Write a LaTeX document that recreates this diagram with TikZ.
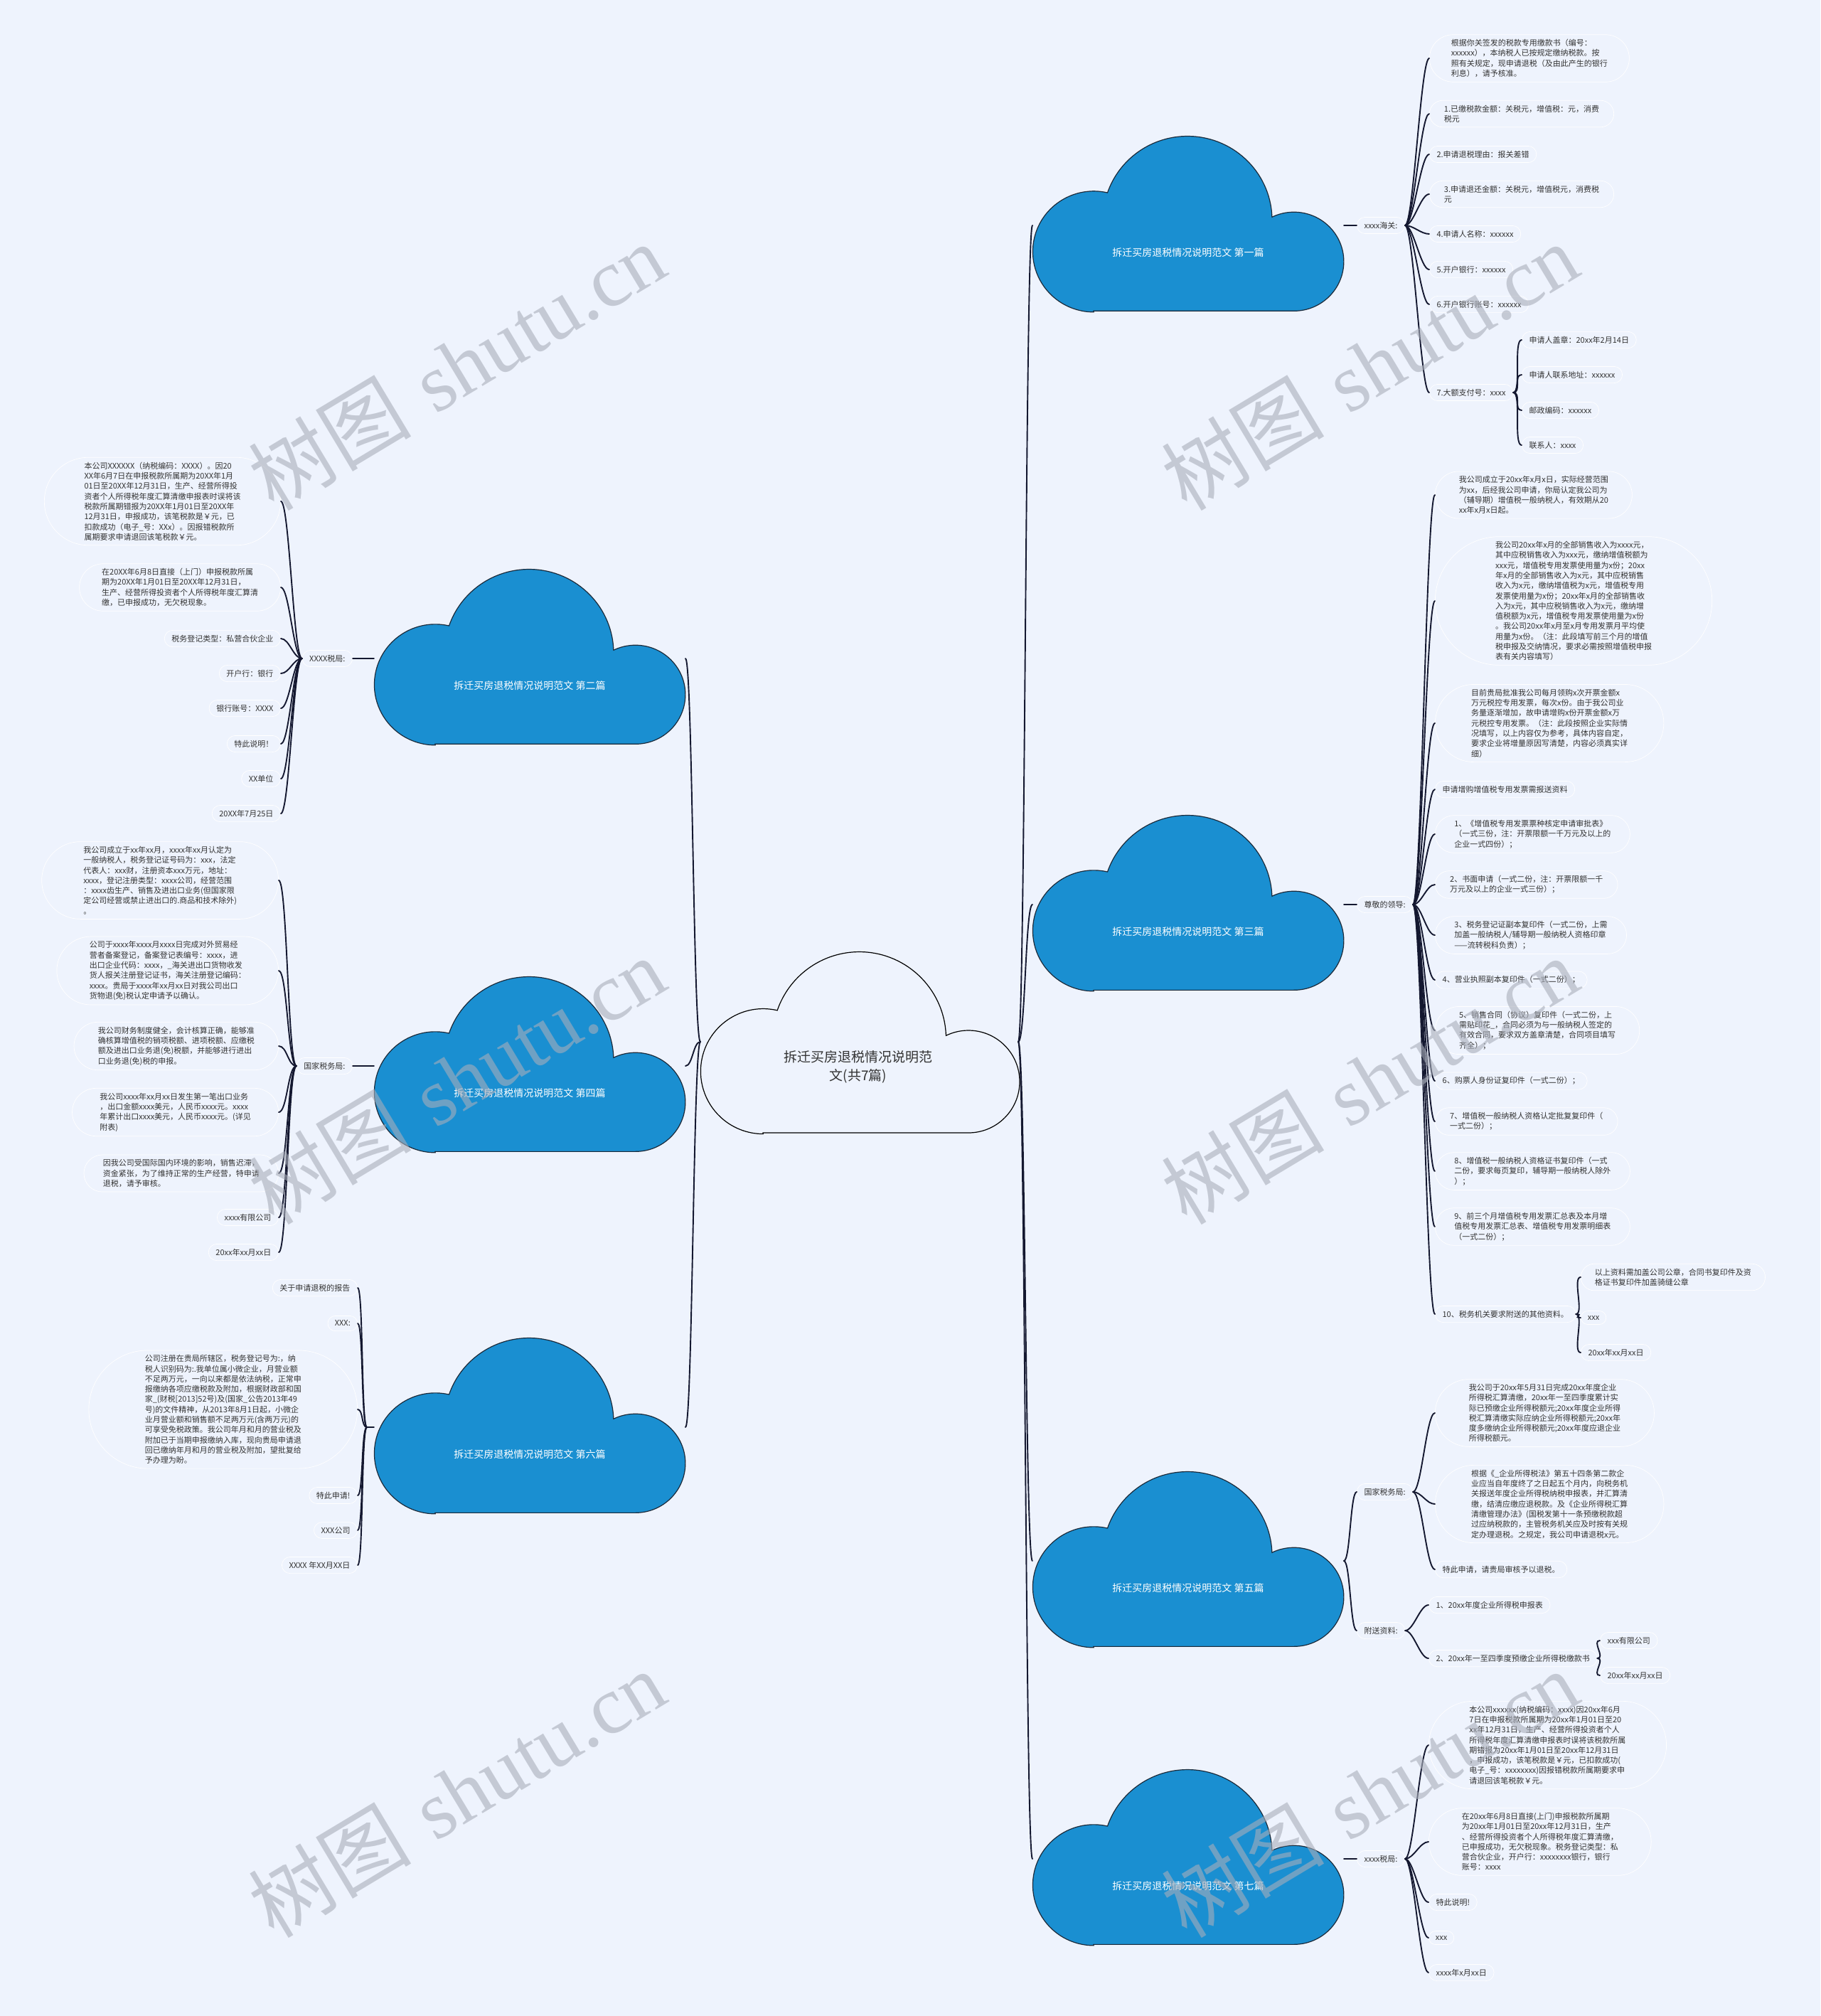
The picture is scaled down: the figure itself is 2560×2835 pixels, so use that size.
\documentclass[tikz,border=0pt]{standalone}
\usepackage{fontspec}
\usepackage{tikz}
\usetikzlibrary{calc, shapes.misc}
\newfontfamily\cjk{Noto Sans CJK SC}
\newfontfamily\wmserif{Liberation Serif}
\definecolor{bgc}{HTML}{EEF3FD}
\definecolor{cloudblue}{HTML}{1A8FD1}
\definecolor{cloudedge}{HTML}{1B2A3A}
\definecolor{linkc}{HTML}{141830}
\definecolor{txtc}{HTML}{333333}
\definecolor{wmc}{HTML}{A9AEBA}
\newcommand\leaffont{\cjk\fontsize{11}{14.3}\selectfont}
\newcommand\cloudfont{\cjk\fontsize{14}{17}\selectfont}
\newcommand\rootfont{\cjk\fontsize{19}{26}\selectfont}
\newcommand\wmfont{\fontsize{115}{115}\selectfont}
\pgfdeclarelayer{bg}
\pgfdeclarelayer{clouds}
\pgfdeclarelayer{top}
\pgfsetlayers{bg,clouds,main,top}
\tikzset{
  leaf/.style={rounded rectangle, draw=white, line width=0.7pt, fill=bgc, text=txtc,
    font=\leaffont, align=left, inner xsep=9pt, inner ysep=6.5pt},
  para/.style={leaf, inner xsep=#1},
  para/.default=20pt,
  link/.style={draw=linkc, line width=1.9pt, line cap=round},
  cloudtext/.style={text=white, font=\cloudfont},
  roottext/.style={text=txtc, font=\rootfont, align=center},
  branchcloud/.style={fill=cloudblue, draw=cloudedge, line width=1.2pt, xscale=0.975, yscale=0.966},
  rootcloud/.style={fill=bgc, draw=black, line width=1.2pt},
  wmark/.style={text=wmc, opacity=0.6, rotate=31, font=\wmfont},
  cloudform/.pic={
    \path[pic actions] (85,255) -- (374,255) arc[start angle=90, end angle=-116, radius=72]
      arc[start angle=-2, end angle=-161, radius=122]
      arc[start angle=-77, end angle=-270, radius=88] -- cycle;
  }
}

\begin{document}
\begin{tikzpicture}[x=1pt, y=-1pt]
    \useasboundingbox (0,0) rectangle (2560,2835);
    \begin{pgfonlayer}{bg}
    \fill[bgc] (0,0) rectangle (2560,2835);
    \end{pgfonlayer}
    % Root and chapters
    \node[roottext] (root) at (1207,1500) {拆迁买房退税情况说明范\\文(共7篇)};
    \node[cloudtext] (p1) at (1671,355) {拆迁买房退税情况说明范文 第一篇};
    \node[cloudtext] (p2) at (745,964) {拆迁买房退税情况说明范文 第二篇};
    \node[cloudtext] (p3) at (1671,1310) {拆迁买房退税情况说明范文 第三篇};
    \node[cloudtext] (p4) at (745,1537) {拆迁买房退税情况说明范文 第四篇};
    \node[cloudtext] (p5) at (1671,2233) {拆迁买房退税情况说明范文 第五篇};
    \node[cloudtext] (p6) at (745,2045) {拆迁买房退税情况说明范文 第六篇};
    \node[cloudtext] (p7) at (1671,2652) {拆迁买房退税情况说明范文 第七篇};
    \coordinate (rootL) at ($(root)+(-222,-35)$);
    \coordinate (rootR) at ($(root)+(225,-35)$);
    \foreach \p in {p1,p2,p3,p4,p5,p6,p7} {
        \coordinate (\p-in) at ($(\p)+(-219,-38)$);
        \coordinate (\p-out) at ($(\p)+(219,-38)$);
    }
    \coordinate (p6-hub) at ($(p6)+(-229,-38)$);
    % Clouds
    \begin{pgfonlayer}{clouds}
    \pic[rootcloud] at ($(root)+(-219,-162)$) {cloudform};
    \foreach \p in {p1,p2,p3,p4,p5,p6,p7}
        \pic[branchcloud] at ($(\p)+(-216,-164)$) {cloudform};
    \end{pgfonlayer}
    \foreach \p in {p1,p3,p5,p7}
        \draw[link] (rootR) .. controls +(10,0) and +(-10,0) .. (\p-in);
    \foreach \p in {p2,p4,p6}
        \draw[link] (rootL) .. controls +(-10,0) and +(10,0) .. (\p-out);

    % Chapter 1
    \node[leaf, anchor=west] (t1) at ($(p1-out)+(18,0)$) {xxxx海关:};
    \draw[link] (p1-out) -- (t1);
    \node[para=17pt, anchor=west] (c1) at (2010,82) {根据你关签发的税款专用缴款书（编号：\\xxxxxx），本纳税人已按规定缴纳税款。按\\照有关规定，现申请退税（及由此产生的银行\\利息），请予核准。};
    \node[para=16pt, anchor=west] (c2) at (2010,160) {1.已缴税款金额：关税元，增值税：元，消费\\税元};
    \node[leaf, anchor=west] (c3) at (2010,217) {2.申请退税理由：报关差错};
    \node[para=16pt, anchor=west] (c4) at (2010,273) {3.申请退还金额：关税元，增值税元，消费税\\元};
    \node[leaf, anchor=west] (c5) at (2010,329) {4.申请人名称：xxxxxx};
    \node[leaf, anchor=west] (c6) at (2010,379) {5.开户银行：xxxxxx};
    \node[leaf, anchor=west] (c7) at (2010,428) {6.开户银行账号：xxxxxx};
    \node[leaf, anchor=west] (c8) at (2010,552) {7.大额支付号：xxxx};
    \foreach \i in {1,...,8}
        \draw[link] (t1.east) .. controls +(12,0) and +(-12,0) .. (c\i.west);
    \foreach \j/\y/\t in {1/478/申请人盖章：20xx年2月14日, 2/527/申请人联系地址：xxxxxx,
                          3/577/邮政编码：xxxxxx, 4/626/联系人：xxxx} {
        \node[leaf, anchor=west] (c8-\j) at (2140,\y) {\t};
        \draw[link] (c8.east) .. controls +(12,0) and +(-12,0) .. (c8-\j.west);
    }

    % Chapter 3
    \node[leaf, anchor=west] (t3) at ($(p3-out)+(18,0)$) {尊敬的领导:};
    \draw[link] (p3-out) -- (t3);
    \node[para, anchor=west] (d1) at (2018,696) {我公司成立于20xx年x月x日，实际经营范围\\为xx，后经我公司申请，你局认定我公司为\\（辅导期）增值税一般纳税人，有效期从20\\xx年x月x日起。};
    \node[para=28pt, anchor=west] (d2) at (2018,845) {我公司20xx年x月的全部销售收入为xxxx元，\\其中应税销售收入为xxx元，缴纳增值税额为\\xxx元，增值税专用发票使用量为x份；20xx\\年x月的全部销售收入为x元，其中应税销售\\收入为x元，缴纳增值税为x元，增值税专用\\发票使用量为x份；20xx年x月的全部销售收\\入为x元，其中应税销售收入为x元，缴纳增\\值税额为x元，增值税专用发票使用量为x份\\。我公司20xx年x月至x月专用发票月平均使\\用量为x份。（注：此段填写前三个月的增值\\税申报及交纳情况，要求必需按照增值税申报\\表有关内容填写）};
    \node[para=22pt, anchor=west] (d3) at (2018,1017) {目前贵局批准我公司每月领购x次开票金额x\\万元税控专用发票，每次x份。由于我公司业\\务量逐渐增加，故申请增购x份开票金额x万\\元税控专用发票。（注：此段按照企业实际情\\况填写，以上内容仅为参考，具体内容自定，\\要求企业将增量原因写清楚，内容必须真实详\\细）};
    \node[leaf, anchor=west] (d4) at (2018,1110) {申请增购增值税专用发票需报送资料};
    \node[para=18pt, anchor=west] (d5) at (2018,1173) {1、《增值税专用发票票种核定申请审批表》\\（一式三份，注：开票限额一千万元及以上的\\企业一式四份）；};
    \node[para=16pt, anchor=west] (d6) at (2018,1244) {2、书面申请（一式二份，注：开票限额一千\\万元及以上的企业一式三份）；};
    \node[para=18pt, anchor=west] (d7) at (2018,1315) {3、税务登记证副本复印件（一式二份，上需\\加盖一般纳税人/辅导期一般纳税人资格印章\\——流转税科负责）；};
    \node[leaf, anchor=west] (d8) at (2018,1378) {4、营业执照副本复印件（一式二份）；};
    \node[para, anchor=west] (d9) at (2018,1449) {5、销售合同（协议）复印件（一式二份，上\\需贴印花\_，合同必须为与一般纳税人签定的\\有效合同，要求双方盖章清楚，合同项目填写\\齐全）；};
    \node[leaf, anchor=west] (d10) at (2018,1520) {6、购票人身份证复印件（一式二份）；};
    \node[para=16pt, anchor=west] (d11) at (2018,1577) {7、增值税一般纳税人资格认定批复复印件（\\一式二份）；};
    \node[para=18pt, anchor=west] (d12) at (2018,1647) {8、增值税一般纳税人资格证书复印件（一式\\二份，要求每页复印，辅导期一般纳税人除外\\）；};
    \node[para=18pt, anchor=west] (d13) at (2018,1725) {9、前三个月增值税专用发票汇总表及本月增\\值税专用发票汇总表、增值税专用发票明细表\\（一式二份）；};
    \node[leaf, anchor=west] (d14) at (2018,1848) {10、税务机关要求附送的其他资料。};
    \foreach \i in {1,...,14}
        \draw[link] (t3.east) .. controls +(12,0) and +(-12,0) .. (d\i.west);
    \node[para=15pt, anchor=west] (d14-1) at (2223,1796) {以上资料需加盖公司公章，合同书复印件及资\\格证书复印件加盖骑缝公章};
    \node[leaf, anchor=west] (d14-2) at (2223,1853) {xxx};
    \node[leaf, anchor=west] (d14-3) at (2223,1902) {20xx年xx月xx日};
    \foreach \j in {1,2,3}
        \draw[link] (d14.east) .. controls +(12,0) and +(-12,0) .. (d14-\j.west);

    % Chapter 5
    \node[leaf, anchor=west] (t5a) at (1908,2098) {国家税务局:};
    \node[leaf, anchor=west] (t5b) at (1908,2293) {附送资料:};
    \draw[link] (p5-out) .. controls +(9,0) and +(-9,0) .. (t5a.west);
    \draw[link] (p5-out) .. controls +(9,0) and +(-9,0) .. (t5b.west);
    \node[para=24pt, anchor=west] (e1) at (2018,1987) {我公司于20xx年5月31日完成20xx年度企业\\所得税汇算清缴，20xx年一至四季度累计实\\际已预缴企业所得税额元;20xx年度企业所得\\税汇算清缴实际应纳企业所得税额元;20xx年\\度多缴纳企业所得税额元;20xx年度应退企业\\所得税额元。};
    \node[para=22pt, anchor=west] (e2) at (2018,2115) {根据《\_企业所得税法》第五十四条第二款企\\业应当自年度终了之日起五个月内，向税务机\\关报送年度企业所得税纳税申报表，并汇算清\\缴，结清应缴应退税款。及《企业所得税汇算\\清缴管理办法》(国税发第十一条预缴税款超\\过应纳税款的，主管税务机关应及时按有关规\\定办理退税。之规定，我公司申请退税x元。};
    \node[leaf, anchor=west] (e3) at (2018,2207) {特此申请，请贵局审核予以退税。};
    \foreach \i in {1,2,3}
        \draw[link] (t5a.east) .. controls +(12,0) and +(-12,0) .. (e\i.west);
    \node[leaf, anchor=west] (f1) at (2009,2257) {1、20xx年度企业所得税申报表};
    \node[leaf, anchor=west] (f2) at (2009,2332) {2、20xx年一至四季度预缴企业所得税缴款书};
    \foreach \i in {1,2}
        \draw[link] (t5b.east) .. controls +(12,0) and +(-12,0) .. (f\i.west);
    \node[leaf, anchor=west] (f2-1) at (2250,2307) {xxx有限公司};
    \node[leaf, anchor=west] (f2-2) at (2250,2356) {20xx年xx月xx日};
    \foreach \j in {1,2}
        \draw[link] (f2.east) .. controls +(12,0) and +(-12,0) .. (f2-\j.west);

    % Chapter 7
    \node[leaf, anchor=west] (t7) at ($(p7-out)+(18,0)$) {xxxx税局:};
    \draw[link] (p7-out) -- (t7);
    \node[para=23pt, anchor=west] (g1) at (2009,2454) {本公司xxxxxx(纳税编码：xxxx)因20xx年6月\\7日在申报税款所属期为20xx年1月01日至20\\xx年12月31日，生产、经营所得投资者个人\\所得税年度汇算清缴申报表时误将该税款所属\\期错报为20xx年1月01日至20xx年12月31日\\，申报成功，该笔税款是￥元，已扣款成功(\\电子\_号：xxxxxxxx)因报错税款所属期要求申\\请退回该笔税款￥元。};
    \node[para=23pt, anchor=west] (g2) at (2009,2590) {在20xx年6月8日直接(上门)申报税款所属期\\为20xx年1月01日至20xx年12月31日，生产\\、经营所得投资者个人所得税年度汇算清缴，\\已申报成功，无欠税现象。税务登记类型：私\\营合伙企业，开户行：xxxxxxxx银行，银行\\账号：xxxx};
    \node[leaf, anchor=west] (g3) at (2009,2675) {特此说明!};
    \node[leaf, anchor=west] (g4) at (2009,2725) {xxx};
    \node[leaf, anchor=west] (g5) at (2009,2774) {xxxx年x月xx日};
    \foreach \i in {1,...,5}
        \draw[link] (t7.east) .. controls +(12,0) and +(-12,0) .. (g\i.west);

    % Chapter 2
    \node[leaf, anchor=east] (t2) at ($(p2-in)+(-30,0)$) {XXXX税局:};
    \draw[link] (p2-in) -- (t2);
    \node[para=22pt, anchor=east] (h1) at (395,705) {本公司XXXXXX（纳税编码：XXXX）。因20\\XX年6月7日在申报税款所属期为20XX年1月\\01日至20XX年12月31日，生产、经营所得投\\资者个人所得税年度汇算清缴申报表时误将该\\税款所属期错报为20XX年1月01日至20XX年\\12月31日，申报成功，该笔税款是￥元，已\\扣款成功（电子\_号：XXx）。因报错税款所\\属期要求申请退回该笔税款￥元。};
    \node[para=18pt, anchor=east] (h2) at (395,826) {在20XX年6月8日直接（上门）申报税款所属\\期为20XX年1月01日至20XX年12月31日，\\生产、经营所得投资者个人所得税年度汇算清\\缴，已申报成功，无欠税现象。};
    \foreach \j/\y/\t in {3/898/税务登记类型：私营合伙企业, 4/947/开户行：银行, 5/996/银行账号：XXXX,
                          6/1046/特此说明！, 7/1095/XX单位, 8/1144/20XX年7月25日}
        \node[leaf, anchor=east] (h\j) at (395,\y) {\t};
    \foreach \i in {1,...,8}
        \draw[link] (t2.west) .. controls +(-12,0) and +(12,0) .. (h\i.east);

    % Chapter 4
    \node[leaf, anchor=east] (t4) at ($(p4-in)+(-30,0)$) {国家税务局:};
    \draw[link] (p4-in) -- (t4);
    \node[para=30pt, anchor=east] (k1) at (392,1238) {我公司成立于xx年xx月，xxxx年xx月认定为\\一般纳税人，税务登记证号码为：xxx，法定\\代表人：xxx财，注册资本xxx万元，地址：\\xxxx，登记注册类型：xxxx公司，经营范围\\：xxxx齿生产、销售及进出口业务(但国家限\\定公司经营或禁止进出口的.商品和技术除外)\\。};
    \node[para=22pt, anchor=east] (k2) at (392,1365) {公司于xxxx年xxxx月xxxx日完成对外贸易经\\营者备案登记，备案登记表编号：xxxx，进\\出口企业代码：xxxx，\_海关进出口货物收发\\货人报关注册登记证书，海关注册登记编码：\\xxxx。贵局于xxxx年xx月xx日对我公司出口\\货物退(免)税认定申请予以确认。};
    \node[para=20pt, anchor=east] (k3) at (392,1471) {我公司财务制度健全，会计核算正确，能够准\\确核算增值税的销项税额、进项税额、应缴税\\额及进出口业务退(免)税额，并能够进行进出\\口业务退(免)税的申报。};
    \node[para=25pt, anchor=east] (k4) at (392,1564) {我公司xxxx年xx月xx日发生第一笔出口业务\\，出口金额xxxx美元，人民币xxxx元。xxxx\\年累计出口xxxx美元，人民币xxxx元。(详见\\附表)};
    \node[para=18pt, anchor=east] (k5) at (392,1650) {因我公司受国际国内环境的影响，销售迟滞，\\资金紧张，为了维持正常的生产经营，特申请\\退税，请予审核。};
    \node[leaf, anchor=east] (k6) at (392,1712) {xxxx有限公司};
    \node[leaf, anchor=east] (k7) at (392,1761) {20xx年xx月xx日};
    \foreach \i in {1,...,7}
        \draw[link] (t4.west) .. controls +(-12,0) and +(12,0) .. (k\i.east);

    % Chapter 6
    \node[leaf, anchor=east] (m1) at (503,1811) {关于申请退税的报告};
    \node[leaf, anchor=east] (m2) at (503,1861) {XXX:};
    \node[para=28pt, anchor=east] (m3) at (503,1982) {公司注册在贵局所辖区，税务登记号为:，纳\\税人识别码为:.我单位属小微企业，月营业额\\不足两万元，一向以来都是依法纳税，正常申\\报缴纳各项应缴税款及附加，根据财政部和国\\家\_(财税[2013]52号)及(国家\_公告2013年49\\号)的文件精神，从2013年8月1日起，小微企\\业月营业额和销售额不足两万元(含两万元)的\\可享受免税政策。我公司年月和月的营业税及\\附加已于当期申报缴纳入库，现向贵局申请退\\回已缴纳年月和月的营业税及附加，望批复给\\予办理为盼。};
    \node[leaf, anchor=east] (m4) at (503,2103) {特此申请!};
    \node[leaf, anchor=east] (m5) at (503,2152) {XXX公司};
    \node[leaf, anchor=east] (m6) at (503,2201) {XXXX 年XX月XX日};
    \draw[link] (p6-in) -- (p6-hub);
    \foreach \i in {1,...,6}
        \draw[link] (p6-hub) .. controls +(-8,0) and +(8,0) .. (m\i.east);

    % Watermark
    \begin{pgfonlayer}{top}
    \foreach \x/\y in {642/515, 1926/515, 642/1519, 1926/1519, 642/2522, 1926/2522}
        \node[wmark] (wm-\x-\y) at (\x,\y) {{\cjk 树图} {\wmserif shutu.cn}};
    \end{pgfonlayer}
\end{tikzpicture}
\end{document}
